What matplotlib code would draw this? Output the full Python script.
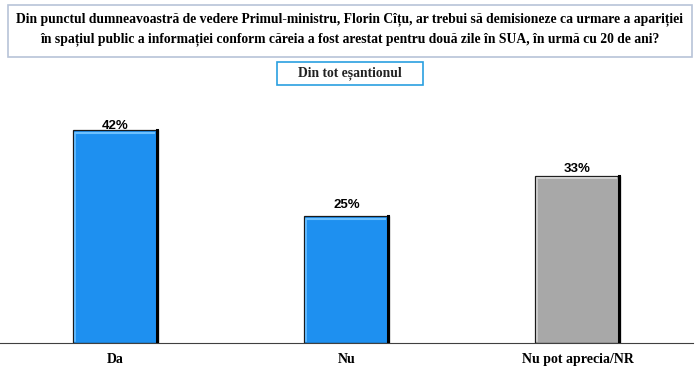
import matplotlib
matplotlib.use("Agg")
import matplotlib.pyplot as plt
from matplotlib.patches import FancyBboxPatch

categories = ["Da", "Nu", "Nu pot aprecia/NR"]
values = [42, 25, 33]
colors = ["#1E90F0", "#1E90F0", "#A8A8A8"]
highlights = ["#6CC0FF", "#6CC0FF", "#D0D0D0"]
value_labels = ["42%", "25%", "33%"]
label_offsets_pt = [-1.2, 4, 0.5]

title = ("Din punctul dumneavoastră de vedere Primul-ministru, Florin Cîțu, ar trebui să demisioneze ca urmare a apariției\n"
         "în spațiul public a informației conform căreia a fost arestat pentru două zile în SUA, în urmă cu 20 de ani?")
subtitle = "Din tot eșantionul"

fig = plt.figure(figsize=(7.0, 3.68), dpi=100)
ax = fig.add_axes([0.0, 25/368, 0.99, (343-89.5)/368])

x = list(range(len(categories)))
bars = ax.bar(x, values, width=0.37, color=colors, edgecolor="#1a1a1a", linewidth=0.9, zorder=2)
for b, hl in zip(bars, highlights):
    x0, w, h = b.get_x(), b.get_width(), b.get_height()
    # bevel: light top/left, dark right
    ax.plot([x0 + 0.01, x0 + w - 0.012], [h - 0.5, h - 0.5], color=hl, lw=1.5, zorder=3,
            solid_capstyle="butt")
    ax.plot([x0 + 0.008, x0 + 0.008], [0.3, h - 0.5], color=hl, lw=1.2, zorder=3)
    ax.plot([x0 + w - 0.004, x0 + w - 0.004], [0, h], color="#000000", lw=2.2, zorder=3)
for b, lab, off in zip(bars, value_labels, label_offsets_pt):
    ax.annotate(lab, (b.get_x() + b.get_width()/2, b.get_height()), xytext=(0, off),
                textcoords="offset points", ha="center", va="bottom",
                fontsize=9.5, fontweight="bold", family="Liberation Sans", zorder=1)

ax.set_xlim(-0.5, 2.5)
ax.set_ylim(0, 50)
for s in ["top", "right", "left"]:
    ax.spines[s].set_visible(False)
ax.spines["bottom"].set_color("#404040")
ax.set_yticks([])
ax.set_xticks(x)
ax.set_xticklabels(categories, fontsize=10, fontweight="bold", family="Liberation Serif")
ax.tick_params(axis="x", length=0, pad=7)

# title box
tb = FancyBboxPatch((8/700, 1-57/368), 684/700, 52/368, boxstyle="square,pad=0",
                    transform=fig.transFigure, facecolor="white", edgecolor="#B8C4D8", linewidth=1.2)
fig.patches.append(tb)
fig.text(0.5, 1-29/368, title, ha="center", va="center", fontsize=9.8, fontweight="bold",
         family="Liberation Serif", linespacing=1.55)

sb = FancyBboxPatch((277/700, 1-85/368), 146/700, 23/368, boxstyle="square,pad=0",
                    transform=fig.transFigure, facecolor="white", edgecolor="#2AA0E0", linewidth=1.2)
fig.patches.append(sb)
fig.text(0.5, 1-73.5/368, subtitle, ha="center", va="center", fontsize=9.8, fontweight="bold",
         family="Liberation Serif", color="#222222")

fig.savefig("out.png", dpi=100)
